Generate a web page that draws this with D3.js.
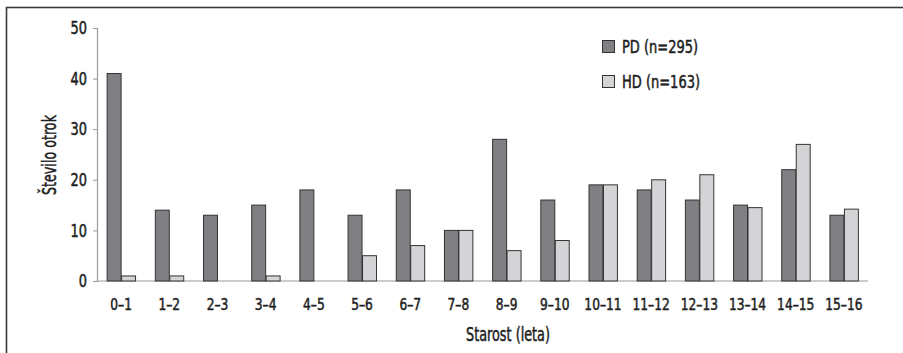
<!DOCTYPE html>
<html><head><meta charset="utf-8">
<script src="https://cdn.jsdelivr.net/npm/d3@7"></script>
<style>
html,body{margin:0;padding:0;background:#fff;}
svg text{font-family:"DejaVu Sans Condensed","DejaVu Sans",sans-serif;font-stretch:condensed;font-weight:normal;fill:#1e1e1e;stroke:#1e1e1e;stroke-width:0.5px;}
</style></head><body>
<svg id="c" width="903" height="353"></svg>
<script>
const categories = ["0–1","1–2","2–3","3–4","4–5","5–6","6–7","7–8","8–9","9–10","10–11","11–12","12–13","13–14","14–15","15–16"];
const pdValues = [41,14,13,15,18,13,18,10,28,16,19,18,16,15,22,13];
const hdValues = [1,1,0,1,0,5,7,10,6,8,19,20,21,14.5,27,14.2];
const seriesNames = ["PD (n=295)","HD (n=163)"];
const seriesColors = ["#808084","#d4d4d6"];
const yTicks = [0,10,20,30,40,50];

const svg = d3.select("#c");
// frame
svg.append("rect").attr("x",6.5).attr("y",7.5).attr("width",1000).attr("height",400)
  .attr("fill","none").attr("stroke","#3a3a3a").attr("stroke-width",1.6);

const x0 = 97, x1 = 868, yTop = 28, yBot = 281;
const x = d3.scaleBand().domain(categories).range([x0, x1]).paddingInner(0.4).paddingOuter(0.2);
const xs = d3.scaleBand().domain([0,1]).range([0, x.bandwidth()]);
const y = d3.scaleLinear().domain([0,50]).range([yBot, yTop]);

// y axis
const ySx = 0.8;
const yAxis = d3.axisLeft(y).tickValues(yTicks).tickSize(4).tickPadding(10/ySx - 4);
const gy = svg.append("g").attr("transform",`translate(${x0},0)`).call(yAxis);
gy.select(".domain").attr("stroke","#999").attr("stroke-width",1.2);
gy.selectAll(".tick line").attr("stroke","#999");
gy.selectAll("text").style("font-size","18px").attr("fill","#1e1e1e")
  .attr("transform",`scale(${ySx},1)`);

// x axis
const xSx = 0.85;
const xAxis = d3.axisBottom(x).tickSize(0).tickPadding(17.5);
const gx = svg.append("g").attr("transform",`translate(0,${yBot})`).call(xAxis);
gx.select(".domain").attr("stroke","#999").attr("stroke-width",1.2).attr("d",`M${x0},0H${x1}`);
gx.selectAll("text").style("font-size","16px").attr("fill","#1e1e1e")
  .attr("transform",`scale(${xSx},1)`);

const data = categories.map((c,i)=>({c, v:[pdValues[i], hdValues[i]]}));
const g = svg.append("g");
data.forEach(d=>{
  d.v.forEach((v,s)=>{
    if (v<=0) return;
    g.append("rect")
      .attr("x", x(d.c)+xs(s)+0.5)
      .attr("y", y(v))
      .attr("width", xs.bandwidth()-0.5)
      .attr("height", yBot - y(v))
      .attr("fill", seriesColors[s])
      .attr("stroke","#333").attr("stroke-width",1);
  });
});

// legend
const leg = svg.append("g");
const legW = [76, 78];
seriesNames.forEach((n,i)=>{
  const ly = 40 + i*35;
  leg.append("rect").attr("x",602.5).attr("y",ly+0.5).attr("width",12).attr("height",12)
    .attr("fill",seriesColors[i]).attr("stroke","#333").attr("stroke-width",1);
  leg.append("text").attr("x",622).attr("y",ly+13).text(n).style("font-size","17.5px")
    .attr("textLength",legW[i]).attr("lengthAdjust","spacingAndGlyphs");
});

// axis titles
svg.append("text").attr("x",466).attr("y",341).text("Starost (leta)").style("font-size","19.5px")
  .attr("textLength",84).attr("lengthAdjust","spacingAndGlyphs");
svg.append("text").attr("transform","translate(56,195) rotate(-90)").text("Število otrok").style("font-size","19.5px")
  .attr("textLength",80).attr("lengthAdjust","spacingAndGlyphs");
</script>
</body></html>
